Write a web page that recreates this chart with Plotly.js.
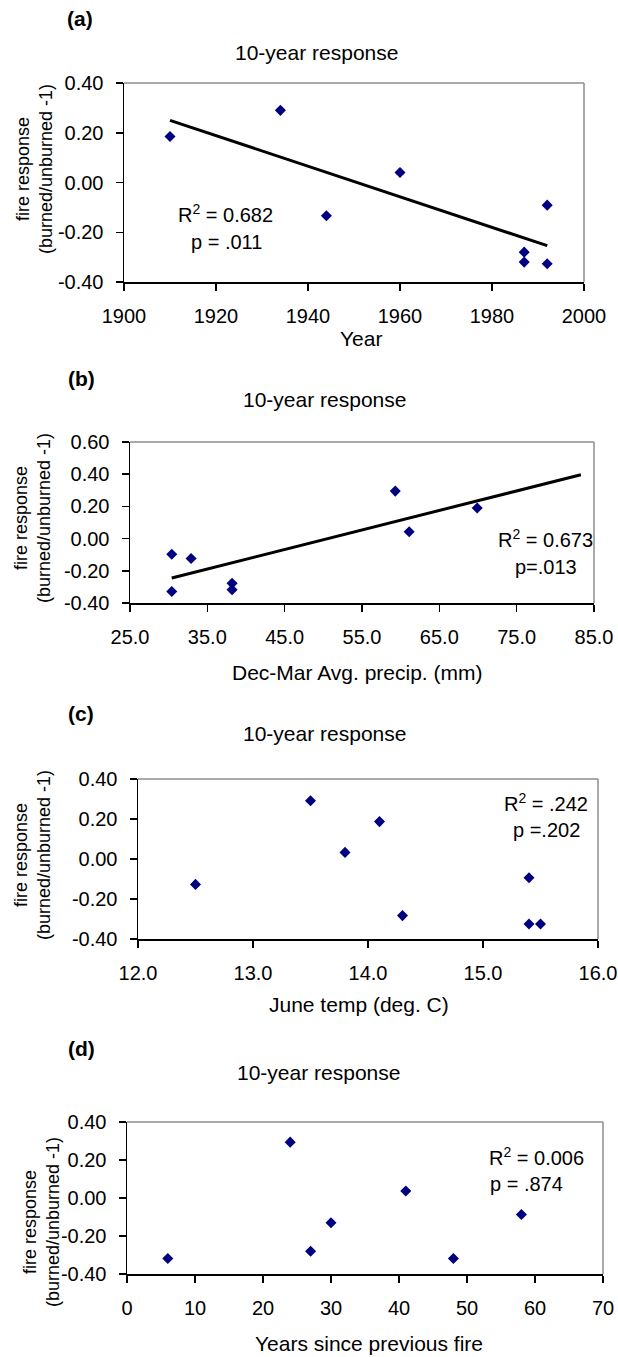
<!DOCTYPE html>
<html>
<head>
<meta charset="utf-8">
<script src="https://cdn.plot.ly/plotly-3.0.1.min.js"></script>
<style>html,body{margin:0;padding:0;background:#fff;}#chart{width:618px;height:1357px;}</style>
</head>
<body>
<div id="chart"></div>
<script>
// ---- data ----
const yearA  = [1910, 1934, 1944, 1960, 1987, 1987, 1992, 1992];
const respA  = [0.185, 0.29, -0.134, 0.04, -0.28, -0.32, -0.091, -0.327];
const trendAx = [1910, 1992];
const trendAy = [0.25, -0.254];

const precipB = [30.4, 30.4, 32.9, 38.2, 38.2, 59.3, 61.1, 69.9];
const respB   = [-0.097, -0.328, -0.124, -0.278, -0.317, 0.295, 0.043, 0.19];
const trendBx = [30.4, 83.3];
const trendBy = [-0.245, 0.397];

const tempC = [12.5, 13.5, 13.8, 14.1, 14.3, 15.4, 15.4, 15.5];
const respC = [-0.127, 0.291, 0.033, 0.187, -0.283, -0.094, -0.325, -0.325];

const yearsD = [6, 24, 27, 30, 41, 48, 58];
const respD  = [-0.318, 0.294, -0.28, -0.13, 0.037, -0.318, -0.087];

const xTicksA = [1900, 1920, 1940, 1960, 1980, 2000];
const xTextA  = ['1900', '1920', '1940', '1960', '1980', '2000'];
const xTicksB = [25, 35, 45, 55, 65, 75, 85];
const xTextB  = ['25.0', '35.0', '45.0', '55.0', '65.0', '75.0', '85.0'];
const xTicksC = [12, 13, 14, 15, 16];
const xTextC  = ['12.0', '13.0', '14.0', '15.0', '16.0'];
const xTicksD = [0, 10, 20, 30, 40, 50, 60, 70];
const xTextD  = ['0', '10', '20', '30', '40', '50', '60', '70'];
const yTicks4 = [-0.4, -0.2, 0, 0.2, 0.4];
const yText4  = ['-0.40', '-0.20', '0.00', '0.20', '0.40'];
const yTicks6 = [-0.4, -0.2, 0, 0.2, 0.4, 0.6];
const yText6  = ['-0.40', '-0.20', '0.00', '0.20', '0.40', '0.60'];

const panelLabels = ['(a)', '(b)', '(c)', '(d)'];
const panelTitle = '10-year response';
const xTitles = ['Year', 'Dec-Mar Avg. precip. (mm)', 'June temp (deg. C)', 'Years since previous fire'];
const yTitle = 'fire response<br>(burned/unburned -1)';
const statR = ['R<sup>2</sup> = 0.682', 'R<sup>2</sup> = 0.673', 'R<sup>2</sup> = .242', 'R<sup>2</sup> = 0.006'];
const statP = ['p = .011', 'p=.013', 'p =.202', 'p = .874'];

// ---- layout helpers (pixel -> paper) ----
const W = 618, H = 1357;
const FONT = 'Liberation Sans, Arial, sans-serif';
const px = v => v / W;
const py = v => 1 - v / H;

// plot boxes: [left, right, top, bottom] in pixels
const boxes = [
  [124, 584, 83, 282],
  [130, 594, 442, 603],
  [138, 598, 779, 939],
  [127, 603, 1122, 1274]
];
const xRanges = [[1900, 2000], [25, 85], [12, 16], [0, 70]];
const yRanges = [[-0.4, 0.4], [-0.4, 0.6], [-0.4, 0.4], [-0.4, 0.4]];
const xT = [[xTicksA, xTextA], [xTicksB, xTextB], [xTicksC, xTextC], [xTicksD, xTextD]];
const yT = [[yTicks4, yText4], [yTicks6, yText6], [yTicks4, yText4], [yTicks4, yText4]];

const xs = [yearA, precipB, tempC, yearsD];
const ys = [respA, respB, respC, respD];

const data = [];
const layout = {
  width: W, height: H,
  margin: {l: 0, r: 0, t: 0, b: 0},
  paper_bgcolor: '#ffffff', plot_bgcolor: '#ffffff',
  showlegend: false,
  font: {family: FONT, size: 20, color: '#000'},
  annotations: [], shapes: []
};

for (let i = 0; i < 4; i++) {
  const s = i === 0 ? '' : String(i + 1);
  const [l, r, t, b] = boxes[i];
  const axCommon = {
    showline: true, linecolor: '#000', linewidth: 1.5,
    ticks: 'outside', ticklen: 7, tickwidth: 1.5, tickcolor: '#000',
    showgrid: false, zeroline: false, fixedrange: true,
    tickfont: {family: FONT, size: 20, color: '#000'},
    tickmode: 'array'
  };
  layout['xaxis' + s] = Object.assign({}, axCommon, {
    domain: [px(l), px(r)], range: xRanges[i], anchor: 'y' + s,
    tickvals: xT[i][0], ticktext: xT[i][1], ticklabelstandoff: 8
  });
  layout['yaxis' + s] = Object.assign({}, axCommon, {
    domain: [py(b), py(t)], range: yRanges[i], anchor: 'x' + s,
    tickvals: yT[i][0], ticktext: yT[i][1], ticklabelstandoff: 8
  });
  // gray top & right frame
  layout.shapes.push({type: 'line', xref: 'x' + s + ' domain', yref: 'y' + s + ' domain',
    x0: 0, x1: 1, y0: 1, y1: 1, line: {color: '#8c8c8c', width: 1.5}});
  layout.shapes.push({type: 'line', xref: 'x' + s + ' domain', yref: 'y' + s + ' domain',
    x0: 1, x1: 1, y0: 0, y1: 1, line: {color: '#8c8c8c', width: 1.5}});

  data.push({
    type: 'scatter', mode: 'markers', x: xs[i], y: ys[i],
    xaxis: 'x' + s, yaxis: 'y' + s, cliponaxis: false,
    marker: {symbol: 'diamond', size: 8.5, color: '#000080', line: {width: 0}},
    hoverinfo: 'skip'
  });
}

// trend lines
data.push({type: 'scatter', mode: 'lines', x: trendAx, y: trendAy, xaxis: 'x', yaxis: 'y',
  line: {color: '#000', width: 3}, hoverinfo: 'skip'});
data.push({type: 'scatter', mode: 'lines', x: trendBx, y: trendBy, xaxis: 'x2', yaxis: 'y2',
  line: {color: '#000', width: 3}, hoverinfo: 'skip'});

// text positions (pixel centers)
const labelPos = [[80, 19], [81, 378], [81, 713], [81, 1048]];
const titlePos = [[316, 53], [324, 400], [324, 733], [318, 1072]];
const xTitlePos = [[361, 338], [357, 672], [359, 1005], [369, 1343]];
const yTitlePos = [[34, 169], [32, 518], [32, 855], [41, 1222]];
const rPos = [[225, 213], [545, 538], [546, 802], [536, 1156]];
const pPos = [[226, 242], [546, 567], [546, 830], [488, 1184]];

function ann(text, p, opts) {
  return Object.assign({
    text: text, xref: 'paper', yref: 'paper', x: px(p[0]), y: py(p[1]),
    xanchor: 'center', yanchor: 'middle', showarrow: false,
    font: {family: FONT, size: 20, color: '#000'}
  }, opts || {});
}

for (let i = 0; i < 4; i++) {
  layout.annotations.push(ann('<b>' + panelLabels[i] + '</b>', labelPos[i], {font: {family: FONT, size: 21, color: '#000'}}));
  layout.annotations.push(ann(panelTitle, titlePos[i], {font: {family: FONT, size: 21, color: '#000'}}));
  layout.annotations.push(ann(xTitles[i], xTitlePos[i], {font: {family: FONT, size: 21, color: '#000'}}));
  layout.annotations.push(ann(yTitle, yTitlePos[i], {textangle: -90, font: {family: FONT, size: 18, color: '#000'}}));
  layout.annotations.push(ann(statR[i], rPos[i]));
  if (i === 3) {
    layout.annotations.push(ann(statP[i], pPos[i], {xanchor: 'left'}));
  } else {
    layout.annotations.push(ann(statP[i], pPos[i]));
  }
}

Plotly.newPlot('chart', data, layout, {displayModeBar: false, staticPlot: true});
</script>
</body>
</html>
